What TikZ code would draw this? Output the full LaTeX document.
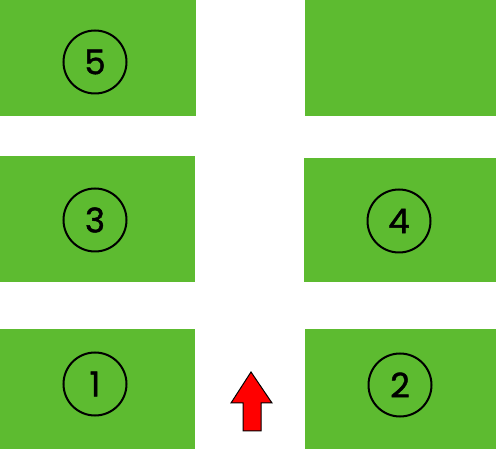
\documentclass[tikz,border=0pt]{standalone}
\usepackage{fontspec}
\setmainfont{Poppins}
\newfontfamily\numfont[FakeBold=1.3]{Poppins}
\definecolor{plotgreen}{RGB}{93,187,48}
\tikzset{
  plot/.style={fill=plotgreen, draw=none},
  num/.style={circle, draw=black, line width=2pt, minimum size=63pt, inner sep=0pt, font=\numfont\fontsize{34}{34}\selectfont},
  uparrow/.style={fill=red, draw=black, line width=1pt, line join=miter}
}
\begin{document}
\begin{tikzpicture}[x=1pt,y=-1pt]
\useasboundingbox (0,0) rectangle (496,449);
\fill[white] (0,0) rectangle (496,449);
% plots
\path[plot] (0,0) rectangle (196,116);
\path[plot] (305,0) rectangle (496,116);
\path[plot] (0,156) rectangle (195,282);
\path[plot] (304,158) rectangle (496,282);
\path[plot] (0,329) rectangle (195,449);
\path[plot] (305,329) rectangle (496,449);
% labels
\node[num] (n5) at (95,62) {5};
\node[num] (n3) at (95,220) {3};
\node[num] (n4) at (399,221) {4};
\node[num] (n1) at (95,384) {1};
\node[num] (n2) at (400,385) {2};
% arrow
\draw[uparrow] (251,372) -- (272,403) -- (261,403) -- (261,431) -- (243,431) -- (243,403) -- (231,403) -- cycle;
\end{tikzpicture}
\end{document}
